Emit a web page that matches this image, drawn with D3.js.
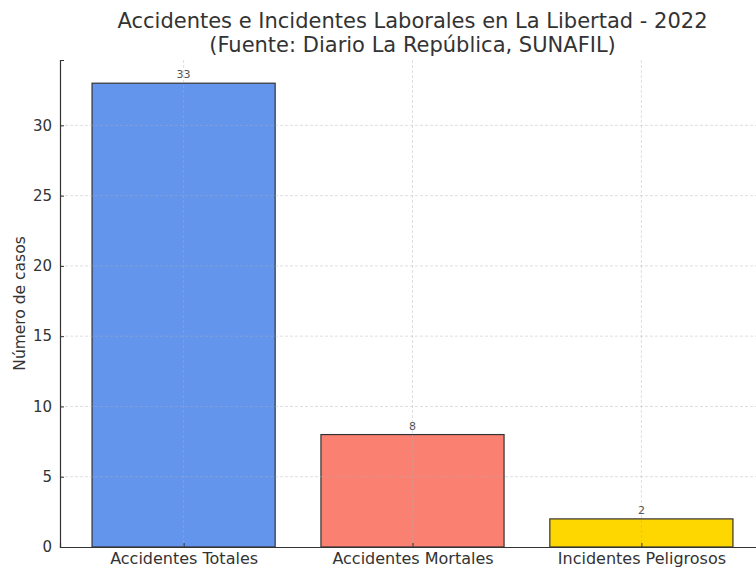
<!DOCTYPE html>
<html>
<head>
<meta charset="utf-8">
<script src="https://cdn.jsdelivr.net/npm/d3@7/dist/d3.min.js"></script>
<style>
  body { margin: 0; background: #fff; }
  text { font-family: "DejaVu Sans", sans-serif; }
</style>
</head>
<body>
<div id="chart"></div>
<script>
var categories = ["Accidentes Totales", "Accidentes Mortales", "Incidentes Peligrosos"]
var values = [33, 8, 2]
var colors = ["#6495ED", "#FA8072", "#FFD700"]
var y_ticks = [0, 5, 10, 15, 20, 25, 30]

var w = 756, h = 568
var left = 60, bottom = 547, top_y = 60
// axes run off the right edge of the picture
var right = 765

var svg = d3.select("#chart").append("svg")
  .attr("width", w)
  .attr("height", h)

// centres at 0,1,2 with matplotlib style margins
var x = d3.scaleLinear().domain([-0.54, 2.54]).range([left, right])
var bar_w = x(0.4) - x(-0.4)
var y = d3.scaleLinear().domain([0, 33 * 1.05]).range([bottom, top_y])

svg.selectAll("rect.bar")
  .data(values)
  .enter().append("rect")
  .attr("class", "bar")
  .attr("x", function(d, i) { return x(i) - bar_w / 2 })
  .attr("y", function(d) { return y(d) })
  .attr("width", bar_w)
  .attr("height", function(d) { return bottom - y(d) })
  .attr("fill", function(d, i) { return colors[i] })
  .attr("stroke", "#333")
  .attr("stroke-width", 1.2)

// grid on top, faint
var grid = svg.append("g")
  .attr("stroke", "#b0b0b0")
  .attr("stroke-opacity", 0.5)
  .attr("stroke-width", 0.8)
  .attr("stroke-dasharray", "3,2")
grid.selectAll("line.h")
  .data(y_ticks.slice(1))
  .enter().append("line")
  .attr("x1", left).attr("x2", w)
  .attr("y1", function(d) { return y(d) })
  .attr("y2", function(d) { return y(d) })
grid.selectAll("line.v")
  .data(categories)
  .enter().append("line")
  .attr("x1", function(d, i) { return x(i) })
  .attr("x2", function(d, i) { return x(i) })
  .attr("y1", top_y).attr("y2", bottom)

// axes
var y_axis = d3.axisLeft(y).tickValues(y_ticks).tickSize(-4).tickPadding(8)
var yg = svg.append("g")
  .attr("transform", "translate(" + left + ",0)")
  .call(y_axis)
yg.select(".domain").attr("stroke", "#333").attr("stroke-width", 1.2)
yg.selectAll(".tick line").attr("stroke", "#333")
yg.selectAll(".tick text")
  .attr("fill", "#333")
  .style("font-size", "15px")

var xg = svg.append("g")
  .attr("transform", "translate(0," + bottom + ")")
  .call(d3.axisBottom(x).tickValues([0, 1, 2])
    .tickFormat(function(d) { return categories[d] })
    .tickSize(-4).tickPadding(6))
xg.select(".domain").attr("stroke", "#333").attr("stroke-width", 1.2)
xg.selectAll(".tick line").attr("stroke", "#333")
xg.selectAll(".tick text")
  .attr("fill", "#333")
  .style("font-size", "16px")

// value labels
svg.selectAll("text.val")
  .data(values)
  .enter().append("text")
  .attr("class", "val")
  .attr("x", function(d, i) { return x(i) })
  .attr("y", function(d) { return y(d) - 5 })
  .attr("text-anchor", "middle")
  .attr("fill", "#555")
  .style("font-size", "11px")
  .text(function(d) { return d })

// y label
svg.append("text")
  .attr("transform", "translate(25," + ((top_y + bottom) / 2) + ") rotate(-90)")
  .attr("text-anchor", "middle")
  .attr("fill", "#333")
  .style("font-size", "15.5px")
  .text("Número de casos")

// title
var cx = (left + right) / 2
svg.append("text")
  .attr("x", cx).attr("y", 28)
  .attr("text-anchor", "middle")
  .attr("fill", "#333")
  .style("font-size", "21px")
  .text("Accidentes e Incidentes Laborales en La Libertad - 2022")
svg.append("text")
  .attr("x", cx).attr("y", 52)
  .attr("text-anchor", "middle")
  .attr("fill", "#333")
  .style("font-size", "21px")
  .text("(Fuente: Diario La República, SUNAFIL)")
</script>
</body>
</html>
